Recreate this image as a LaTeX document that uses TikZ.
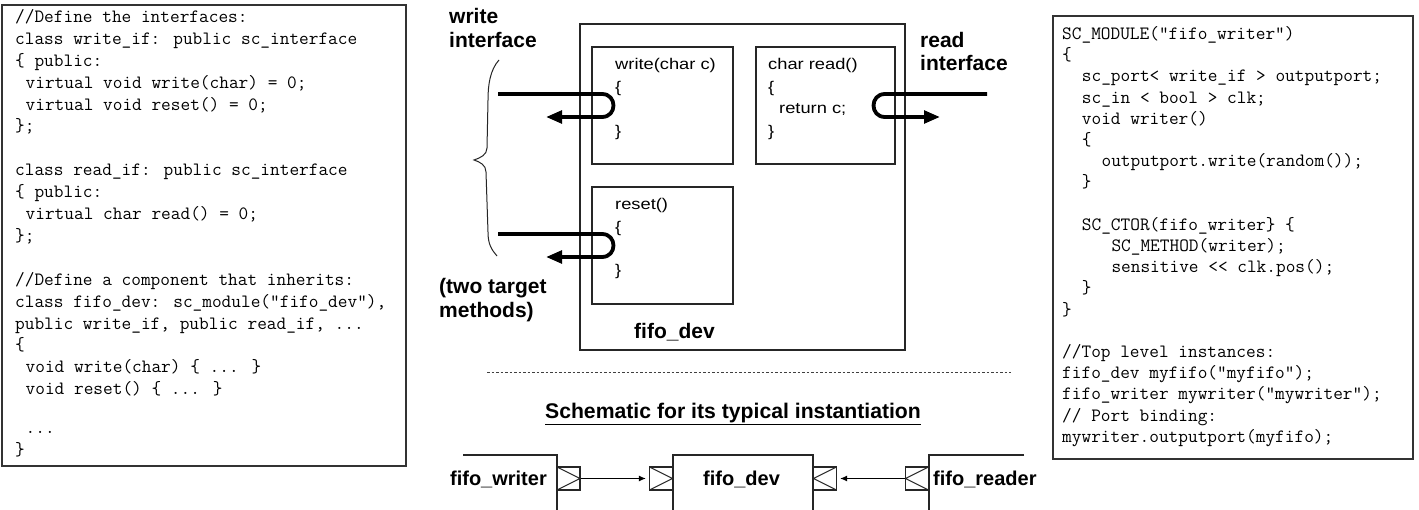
\documentclass[tikz,border=0pt]{standalone}
\usepackage{fontspec}
\usetikzlibrary{arrows.meta}
\newfontfamily\lblfont{Liberation Sans}
\newfontfamily\inbfont[FakeStretch=1.18]{Liberation Sans}
\tikzset{
  code/.style={anchor=base west, inner sep=0pt, font=\fontsize{18.8}{22}\selectfont\ttfamily},
  lbl/.style={anchor=west, inner sep=0pt, font=\fontsize{21}{24}\selectfont\lblfont\bfseries},
  slbl/.style={inner sep=0pt, font=\fontsize{20}{24}\selectfont\lblfont\bfseries},
  titl/.style={inner sep=0pt, font=\fontsize{21.2}{24}\selectfont\lblfont\bfseries},
  mtxt/.style={anchor=west, inner sep=0pt, font=\fontsize{15.5}{18}\selectfont\inbfont},
  frame/.style={draw=black!80, line width=1.1pt},
  thin/.style={draw=black!85, line width=1.1pt},
  uarrow/.style={line width=3.8pt, line join=round, -{Triangle[length=16pt,width=12.5pt]}},
  sarrow/.style={line width=1.2pt, -{Latex[length=7pt,width=6pt]}, shorten >=3pt},
  port/.style={draw=black!85, line width=1.1pt, minimum width=23pt, minimum height=23pt, inner sep=0pt},
  outport/.style={port, path picture={\draw[line width=1.1pt] (path picture bounding box.north west) -- (path picture bounding box.east) -- (path picture bounding box.south west);}},
  inportr/.style={port, path picture={\draw[line width=1.1pt] (path picture bounding box.north east) -- (path picture bounding box.west) -- (path picture bounding box.south east);}},
}
\begin{document}
\begin{tikzpicture}[x=1pt,y=-1pt]
\fill[white] (0,0) rectangle (1419,510);
\useasboundingbox (0,0) rectangle (1419,510);

% ---------- left code box ----------
\draw[frame] (2,5) rectangle (406,466);
\node[code] (l0) at (15,22.5) {//Define the interfaces:};
\node[code] (l1) at (15,44.4) {class write\_if: public sc\_interface};
\node[code] (l2) at (15,66.3) {\{ public:};
\node[code] (l3) at (25.5,88.2) {virtual void write(char) = 0;};
\node[code] (l4) at (25.5,110.1) {virtual void reset() = 0;};
\node[code] (l5) at (15,132) {\};};
\node[code] (l7) at (15,175.8) {class read\_if: public sc\_interface};
\node[code] (l8) at (15,197.7) {\{ public:};
\node[code] (l9) at (25.5,219.6) {virtual char read() = 0;};
\node[code] (l10) at (15,241.5) {\};};
\node[code] (l12) at (15,285.3) {//Define a component that inherits:};
\node[code] (l13) at (15,307.2) {class fifo\_dev: sc\_module("fifo\_dev"),};
\node[code] (l14) at (15,329.1) {public write\_if, public read\_if, ...};
\node[code] (l15) at (15,351) {\{};
\node[code] (l16) at (25.5,372.9) {void write(char) \{ ... \}};
\node[code] (l17) at (25.5,394.8) {void reset() \{ ... \}};
\node[code] (l19) at (25.5,433) {...};
\node[code] (l20) at (15,455) {\}};

% ---------- right code box ----------
\draw[frame] (1053,16) rectangle (1413,459);
\node[code] (r0) at (1062,39.5) {SC\_MODULE("fifo\_writer")};
\node[code] (r1) at (1062,60.7) {\{};
\node[code] (r2) at (1081.7,81.9) {sc\_port< write\_if > outputport;};
\node[code] (r3) at (1081.7,103.1) {sc\_in < bool > clk;};
\node[code] (r4) at (1081.7,124.3) {void writer()};
\node[code] (r5) at (1081.7,145.5) {\{};
\node[code] (r6) at (1101.4,166.7) {outputport.write(random());};
\node[code] (r7) at (1081.7,187.9) {\}};
\node[code] (r9) at (1081.7,230.3) {SC\_CTOR(fifo\_writer\} \{};
\node[code] (r10) at (1111.3,251.5) {SC\_METHOD(writer);};
\node[code] (r11) at (1111.3,272.7) {sensitive <\kern0pt< clk.pos();};
\node[code] (r12) at (1081.7,293.9) {\}};
\node[code] (r13) at (1062,315.1) {\}};
\node[code] (r15) at (1062,357.5) {//Top level instances:};
\node[code] (r16) at (1062,378.7) {fifo\_dev myfifo("myfifo");};
\node[code] (r17) at (1062,399.9) {fifo\_writer mywriter("mywriter");};
\node[code] (r18) at (1062,421.1) {// Port binding:};
\node[code] (r19) at (1062,442.3) {mywriter.outputport(myfifo);};

% ---------- middle: fifo_dev structure ----------
\draw[thin] (580,24) rectangle (905,350);
\draw[thin] (592,47) rectangle (733,164);
\draw[thin] (756,47) rectangle (895,164);
\draw[thin] (592,187) rectangle (733,304);

\node[mtxt] (wt) at (615,65) {write(char c)};
\node[mtxt] (wo) at (615,88) {\{};
\node[mtxt] (wc) at (615,132) {\}};
\node[mtxt] (rt) at (768,65) {char read()};
\node[mtxt] (ro) at (768,88) {\{};
\node[mtxt] (rr) at (779,109) {return c;};
\node[mtxt] (rc) at (768,132) {\}};
\node[mtxt] (st) at (615,205) {reset()};
\node[mtxt] (so) at (615,228) {\{};
\node[mtxt] (sc) at (615,271) {\}};

\node[lbl] (fd) at (634,332) {fifo\_dev};

\node[lbl] (wl1) at (449,16) {write};
\node[lbl] (wl2) at (449,40) {interface};
\node[lbl] (rl1) at (920,40) {read};
\node[lbl] (rl2) at (920,63) {interface};
\node[lbl] (tl1) at (439,288) {(two target};
\node[lbl] (tl2) at (439,312) {methods)};

% brace
\draw[black!85, line width=1pt] (499,60) .. controls (490,70) and (488,85) .. (488,100)
  -- (487,148) .. controls (487,155) and (480,158) .. (474,160)
  .. controls (480,162) and (486,165) .. (486,172)
  -- (488,232) .. controls (488,245) and (492,250) .. (497,256);

% thick U-turn arrows
\coordinate (wa) at (498,94);
\coordinate (wb) at (602,94);
\coordinate (wc2) at (602,117);
\coordinate (we) at (546,117);
\draw[uarrow] (wa) -- (wb) .. controls (617.3,94) and (617.3,117) .. (wc2) -- (we);

\coordinate (sa) at (498,234);
\coordinate (sb) at (602,234);
\coordinate (sc2) at (602,257);
\coordinate (se) at (546,257);
\draw[uarrow] (sa) -- (sb) .. controls (617.3,234) and (617.3,257) .. (sc2) -- (se);

\coordinate (ra) at (987,94);
\coordinate (rb) at (885,94);
\coordinate (rc2) at (885,117);
\coordinate (re) at (940,117);
\draw[uarrow] (ra) -- (rb) .. controls (869.7,94) and (869.7,117) .. (rc2) -- (re);

% dotted separator
\draw[black!75, line width=1pt, dash pattern=on 2.5pt off 2pt] (487,373) -- (1011,373);

\node[titl, anchor=base] (sch) at (733,418) {\underline{Schematic for its typical instantiation}};

% ---------- schematic ----------
\draw[thin] (463,455) -- (557,455) -- (557,510);
\draw[thin] (673,510) -- (673,455) -- (813,455) -- (813,510);
\draw[thin] (1024,455) -- (929,455) -- (929,510);

\node[outport] (wp) at (568.5,478.5) {};
\node[outport] (dlp) at (661,478.5) {};
\node[inportr] (drp) at (825,478.5) {};
\node[inportr] (rp) at (917,478.5) {};

\node[slbl, anchor=east] (wrt) at (547,479) {fifo\_writer};
\node[slbl, anchor=west] (dvt) at (703,479) {fifo\_dev};
\node[slbl, anchor=west] (rdt) at (933,479) {fifo\_reader};

\draw[sarrow] (wp.east) -- (dlp.west);
\draw[sarrow] (rp.west) -- (drp.east);
\end{tikzpicture}
\end{document}
